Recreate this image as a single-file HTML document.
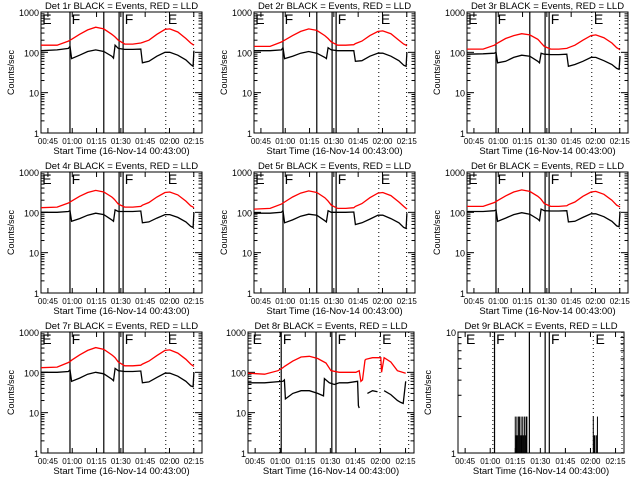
<!DOCTYPE html>
<html><head><meta charset="utf-8"><style>
body{margin:0;background:#fff}
svg{display:block;font-family:"Liberation Sans",sans-serif}
</style></head><body>
<svg id="c" width="640" height="480" viewBox="0 0 640 480"></svg>
<script>
// shared time samples (minutes across the plot box, 0..100)
const T = [0,10,17,18,19,24,29,34,39,44,45,46,48,52,57,62,63,67,72,77,80,85,90,93,94.5,95];
const red1 = [150,150,190,200,210,280,360,420,380,280,260,240,200,160,160,170,175,200,280,370,380,320,220,170,155,150];
const blk1 = [110,115,125,140,70,85,105,115,105,80,72,150,125,118,118,120,55,60,80,100,100,85,65,50,45,110];
const red2 = [140,140,180,190,200,260,330,380,350,260,240,220,180,150,150,155,165,190,260,330,340,290,200,160,150,145];
const blk2 = [110,110,115,130,70,80,95,105,95,75,70,130,115,110,110,110,60,62,80,95,95,80,62,48,45,100];
const red3 = [120,120,150,160,170,220,260,290,270,210,190,170,140,120,120,125,130,150,200,260,270,230,170,130,120,115];
const blk3 = [90,92,95,100,55,60,75,85,80,60,55,95,90,88,88,90,45,50,60,75,75,62,50,40,38,80];
const red4 = [130,135,170,180,190,250,310,350,320,240,220,200,160,135,135,140,150,175,240,310,320,270,190,145,135,130];
const blk4 = [100,100,105,110,60,70,85,95,88,65,60,115,105,105,105,108,55,58,72,88,88,75,58,45,42,100];
const red5 = [120,125,160,170,180,240,300,340,310,230,210,190,150,125,125,130,140,165,230,300,310,260,180,140,125,120];
const blk5 = [95,95,100,110,55,65,80,90,85,62,58,110,100,100,100,102,50,55,68,85,85,70,55,42,40,95];
const red6 = [140,140,175,185,195,255,320,360,330,250,230,210,165,140,140,145,155,180,250,320,330,280,200,150,140,135];
const blk6 = [105,105,110,115,60,72,88,98,90,68,62,120,110,108,108,110,58,60,75,92,92,78,60,46,44,105];
const red7 = [130,135,175,185,200,270,350,410,370,270,250,230,180,145,145,150,160,190,260,350,360,300,210,160,145,140];
const blk7 = [100,100,105,115,60,72,90,100,92,68,62,125,110,105,105,108,55,58,75,95,95,80,60,46,44,100];
const T8r = [0,10,18,21,22,27,32,37,42,47,50,55,60,65,67,68,69,70.5,71,75,80,80.5,82,86,90,93,95];
const red8 = [95,90,110,130,140,190,240,250,220,170,110,100,100,100,110,60,65,200,210,230,230,100,230,180,110,100,95];
const T8b = [0,10,21,21.9,22.5,27,32,37,42,45.5,46,49,52,55,60,66,66.5,67,67.5,71.9,75,78,79,82,86,90,92,93.5,95];
const blk8 = [55,55,60,65,22,30,35,35,30,26,70,55,50,55,55,60,15,13,null,30,35,33,null,35,28,20,18,17,60];
const spikeU = [30.5,31,31.5,32,32.5,33,33.5,34,34.5,35,35.5,36,36.5,37,37.5,77.5,78,78.5,79.5,80];
const spikeV = [2,1.4,2,1.4,2,2,1.4,2,1.4,2,1.4,2,1.4,2,2,2,1.4,1.4,1.4,2];
const xTickLabels = ["00:45","01:00","01:15","01:30","01:45","02:00","02:15"];
const xTickU = [4.3,19.4,34.5,49.6,64.7,79.8,94.9];

const svg = document.getElementById('c');
const NS = 'http://www.w3.org/2000/svg';
function mk(tag, attrs, parent){const e=document.createElementNS(NS,tag);for(const k in attrs)e.setAttribute(k,attrs[k]);(parent||svg).appendChild(e);return e;}

const panels = [
 {n:1,col:0,row:0,red:red1,blk:blk1},
 {n:2,col:1,row:0,red:red2,blk:blk2},
 {n:3,col:2,row:0,red:red3,blk:blk3},
 {n:4,col:0,row:1,red:red4,blk:blk4},
 {n:5,col:1,row:1,red:red5,blk:blk5},
 {n:6,col:2,row:1,red:red6,blk:blk6},
 {n:7,col:0,row:2,red:red7,blk:blk7},
 {n:8,col:1,row:2,red:red8,blk:blk8,tr:T8r,tb:T8b,x0:248,x1:414,shift:2,noY:true,dot0:true},
 {n:9,col:2,row:2,x0:458,x1:624,shift:4,dec:1,dot0:true},
];

panels.forEach(p=>{
  const g = mk('g',{});
  
  
  const x0 = p.x0!==undefined?p.x0:41+213*p.col;
  const x1 = p.x1!==undefined?p.x1:202+213*p.col;
  const y0 = 12+160*p.row, y1 = 133+160*p.row;
  const dec = p.dec||3;
  const sx = u=>x0+(u/100)*(x1-x0);
  const sy = v=>y1-(Math.log10(v)/dec)*(y1-y0);
  const sh = p.shift||0;
  const cx=(x0+x1)/2;
  const t = mk('text',{x:cx,y:y0-3,'text-anchor':'middle','font-size':'9.5'},g);
  t.textContent='Det '+p.n+'r BLACK = Events, RED = LLD';
  
  const b = mk('rect',{x:x0,y:y0,width:x1-x0,height:y1-y0,fill:'none',stroke:'#000','stroke-width':1},g);
  
  for(let d=0; d<=dec; d++){
    const y=sy(Math.pow(10,d));
    mk('line',{x1:x0,x2:x0+7,y1:y,y2:y,stroke:'#000'},g);
    mk('line',{x1:x1,x2:x1-7,y1:y,y2:y,stroke:'#000'},g);
    const lt=mk('text',{x:x0-2,y:y+4,'text-anchor':'end','font-size':'9'},g);
    lt.textContent=String(Math.pow(10,d));
    
    if(d<dec) for(let m=2;m<=9;m++){
      const ym=sy(m*Math.pow(10,d));
      mk('line',{x1:x0,x2:x0+3.5,y1:ym,y2:ym,stroke:'#000'},g);
      mk('line',{x1:x1,x2:x1-3.5,y1:ym,y2:ym,stroke:'#000'},g);
    }
  }
  xTickU.forEach((u,i)=>{
    const x=sx(u);
    mk('line',{x1:x,x2:x,y1:y1,y2:y1-5,stroke:'#000'},g);
    mk('line',{x1:x,x2:x,y1:y0,y2:y0+5,stroke:'#000'},g);
    const lt=mk('text',{x:x,y:y1+11,'text-anchor':'middle','font-size':'8'},g);
    lt.textContent=xTickLabels[i];
    
  });
  const xt=mk('text',{x:cx,y:y1+21,'text-anchor':'middle','font-size':'9.5'},g);
  xt.textContent='Start Time (16-Nov-14 00:43:00)';
  
  if(!p.noY){
    const yt=mk('text',{x:0,y:0,'text-anchor':'middle','font-size':'9',transform:`translate(${x0-27},${(y0+y1)/2}) rotate(-90)`},g);
    yt.textContent='Counts/sec';
    
  }
  [18,39,48.5,51].forEach(u=>{const x=sx(u+sh);mk('line',{x1:x,x2:x,y1:y0,y2:y1,stroke:'#000','stroke-width':1.2},g);});
  const dots=[77.5,94.8]; if(p.dot0) dots.push(17);
  dots.forEach(u=>{const x=sx(u+sh);mk('line',{x1:x,x2:x,y1:y0,y2:y1,stroke:'#000','stroke-dasharray':'1,3'},g);});
  [['E',0.8],['F',19],['F',52],['E',78.8]].forEach(([s,u])=>{
    const l=mk('text',{x:sx(u+sh),y:y0+12,'font-size':'14'},g);
    l.textContent=s;
  });
  function line(ts,vs,col,name){
    let d='',pen=false;
    ts.forEach((tt,i)=>{const v=vs[i];if(v===null){pen=false;return;}d+=(pen?'L':'M')+sx(tt).toFixed(1)+','+sy(v).toFixed(1);pen=true;});
    const pl=mk('path',{d:d,fill:'none',stroke:col,'stroke-width':1.3},g);
    
  }
  if(p.red){line(p.tr||T,p.red,'#ff0000','lld-series-red');line(p.tb||T,p.blk,'#000','events-series-black');}
  if(p.n===9){
    spikeU.forEach((u,i)=>{
      const x=sx(u+sh);
      const s=mk('line',{x1:x,x2:x,y1:sy(1),y2:sy(spikeV[i]),stroke:'#000','stroke-width':1},g);
      
    });
  }
});
</script>
</body></html>
